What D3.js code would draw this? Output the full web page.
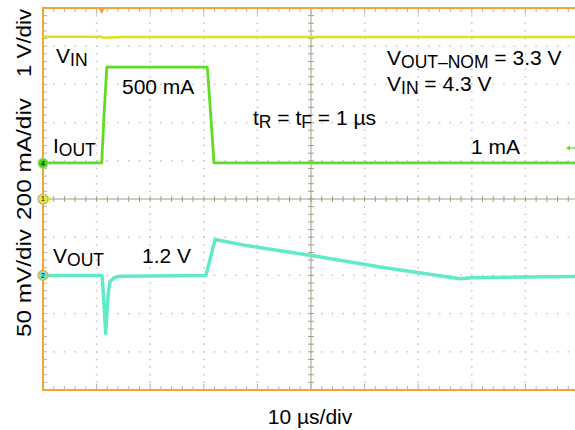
<!DOCTYPE html>
<html>
<head>
<meta charset="utf-8">
<script src="https://cdn.jsdelivr.net/npm/d3@7"></script>
<style>
  body { margin: 0; background: #fff; }
  text { font-family: "Liberation Sans", Arial, Helvetica, sans-serif; fill: #000; }
</style>
</head>
<body>
<script>
// time in µs from the left edge of the screen (10 µs/div)
const vinTime = [0, 10.9, 11.3, 12.5, 15, 100];
const vinVolts = [4.25, 4.25, 4.22, 4.23, 4.24, 4.24];

const ioutTime = [0, 10.95, 11.4, 11.9, 30.65, 31.3, 31.9, 100];
const ioutMilliamps = [2, 2, 260, 503, 503, 250, 2, 2];

// VOUT shown AC style: deviation from 3.3 V in mV
const voutTime = [0, 10.95, 11.06, 11.4, 11.7, 11.85, 12.13, 12.5, 13.25, 14.4,
    30.4, 30.7, 32.1, 38.0, 50.1, 62.9, 77.8, 80, 90, 100];
const voutMillivolts = [0, 0, -3, -40, -76, -59, -26, -8, -3, -1,
    0, 8, 47, 39, 26, 11, -4.5, -3, -2, -1.5];

const width = 575;
const height = 430;
const margin = { top: 8, left: 43 };
const divW = 53.6;
const divH = 38.2;

const svg = d3.select('body').append('svg')
    .attr('width', width)
    .attr('height', height);

const x = d3.scaleLinear().domain([0, 100]).range([margin.left, margin.left + 10 * divW]);
const yDiv = d3.scaleLinear().domain([-5, 5]).range([margin.top + 10 * divH, margin.top]);

// one scale per channel: units per division and marker offset in divisions
function chanScale(perDiv, offsetDiv) {
    return d3.scaleLinear()
        .domain([(-5 - offsetDiv) * perDiv, (5 - offsetDiv) * perDiv])
        .range(yDiv.range());
}
const yVin = chanScale(1, 0);
const yIout = chanScale(200, 0.935);
const yVout = chanScale(50, -2);

const pLeft = x(0), pRight = width, pTop = yDiv(5), pBottom = yDiv(-5);
const xMajor = x.ticks(10), xMinor = x.ticks(50);
const yMajor = yDiv.ticks(10), yMinor = yDiv.ticks(50);

const grid = svg.append('g');

// dotted graticule
const dots = [];
xMajor.filter((t) => t > 0 && t < 100 && t !== 50).forEach((t) => {
    yMinor.forEach((d) => dots.push([x(t), yDiv(d)]));
});
yMajor.filter((d) => d > -5 && d < 5 && d !== 0).forEach((d) => {
    xMinor.forEach((t) => dots.push([x(t), yDiv(d)]));
});
grid.selectAll('rect.dot').data(dots).join('rect')
    .attr('class', 'dot')
    .attr('x', (d) => d[0] - 0.75)
    .attr('y', (d) => d[1] - 0.75)
    .attr('width', 1.5)
    .attr('height', 1.5)
    .attr('fill', '#c4c4c4');

// center cross with ticks
const axisColor = '#a29e86';
grid.append('line')
    .attr('x1', x(50)).attr('x2', x(50)).attr('y1', pTop).attr('y2', pBottom)
    .attr('stroke', axisColor);
grid.append('line')
    .attr('x1', pLeft).attr('x2', pRight).attr('y1', yDiv(0)).attr('y2', yDiv(0))
    .attr('stroke', axisColor);
grid.selectAll('line.hc').data(xMinor).join('line')
    .attr('class', 'hc')
    .attr('x1', (t) => x(t)).attr('x2', (t) => x(t))
    .attr('y1', yDiv(0) - 3).attr('y2', yDiv(0) + 3)
    .attr('stroke', axisColor);
grid.selectAll('line.vc').data(yMinor).join('line')
    .attr('class', 'vc')
    .attr('x1', x(50) - 3).attr('x2', x(50) + 3)
    .attr('y1', (d) => yDiv(d)).attr('y2', (d) => yDiv(d))
    .attr('stroke', axisColor);

// border ticks
const tickColor = '#b9b29c';
grid.selectAll('line.bt').data(xMinor).join('line')
    .attr('class', 'bt')
    .attr('x1', (t) => x(t)).attr('x2', (t) => x(t))
    .attr('y1', pBottom).attr('y2', (t) => pBottom - (t % 10 === 0 ? 6 : 4))
    .attr('stroke', tickColor);
grid.selectAll('line.tt').data(xMinor).join('line')
    .attr('class', 'tt')
    .attr('x1', (t) => x(t)).attr('x2', (t) => x(t))
    .attr('y1', pTop).attr('y2', (t) => pTop + (t % 10 === 0 ? 6 : 4))
    .attr('stroke', tickColor);
grid.selectAll('line.lt').data(yMinor).join('line')
    .attr('class', 'lt')
    .attr('x1', pLeft).attr('x2', pLeft + 4)
    .attr('y1', (d) => yDiv(d)).attr('y2', (d) => yDiv(d))
    .attr('stroke', tickColor);

// orange frame
const frameColor = '#f2a43a';
svg.append('path')
    .attr('d', `M${pRight},${pTop}H${pLeft}V${pBottom}H${pRight}`)
    .attr('fill', 'none')
    .attr('stroke', frameColor)
    .attr('stroke-width', 2);

// traces
svg.append('defs').append('clipPath').attr('id', 'plot')
    .append('rect').attr('x', pLeft).attr('y', pTop).attr('width', pRight - pLeft).attr('height', pBottom - pTop);
const traces = svg.append('g').attr('clip-path', 'url(#plot)');

function trace(times, values, yscale, color, w) {
    const line = d3.line().x((i) => x(times[i])).y((i) => yscale(values[i]));
    traces.append('path')
        .attr('d', line(d3.range(times.length)))
        .attr('fill', 'none')
        .attr('stroke', color)
        .attr('stroke-width', w)
        .attr('stroke-linejoin', 'round');
}
trace(vinTime, vinVolts, yVin, '#dce31c', 2.5);
trace(voutTime, voutMillivolts, yVout, '#62eac8', 3.5);
trace(ioutTime, ioutMilliamps, yIout, '#62dc22', 2.8);

// channel markers on the left edge
const markers = [
    { n: '4', y: yIout(0), fill: '#4fd21f', stroke: '#8fe070' },
    { n: '1', y: yVin(0), fill: '#e8e838', stroke: '#b0ae98' },
    { n: '2', y: yVout(0), fill: '#72e8d0', stroke: '#f2a43a' }
];
const mk = svg.selectAll('g.mk').data(markers).join('g')
    .attr('class', 'mk')
    .attr('transform', (d) => `translate(${pLeft},${d.y})`);
mk.append('circle').attr('r', 5).attr('fill', (d) => d.fill).attr('stroke', (d) => d.stroke).attr('stroke-width', 1.2);
mk.append('text').attr('text-anchor', 'middle').attr('dy', 2.3).style('font-size', '7px').text((d) => d.n);

// trigger level arrow for ch1 and trigger position on top
svg.append('path').attr('d', `M${pLeft + 5},${yVin(0) - 2.5}L${pLeft + 9},${yVin(0)}L${pLeft + 5},${yVin(0) + 2.5}Z`)
    .attr('fill', '#e2e21a');
svg.append('path').attr('d', `M${x(10.95) - 3.5},${pTop}L${x(10.95) + 3.5},${pTop}L${x(10.95)},${pTop + 6}Z`)
    .attr('fill', frameColor);
// ch4 level arrow at the right edge
svg.append('path').attr('d', `M566,${yIout(80)}L570,${yIout(80) - 2.5}L570,${yIout(80) + 2.5}Z`)
    .attr('fill', '#62dc22');
svg.append('line').attr('x1', 569).attr('x2', 575).attr('y1', yIout(80)).attr('y2', yIout(80))
    .attr('stroke', '#62dc22').attr('stroke-width', 1.2);

// text labels: parts are [text, isSubscript]
function label(px, py, parts) {
    const t = svg.append('text').attr('x', px).attr('y', py).style('font-size', '21px');
    parts.forEach(([s, sub], i) => {
        t.append('tspan')
            .style('font-size', sub ? '17.5px' : '21px')
            .attr('dy', sub ? 3 : (i > 0 ? -3 : 0))
            .text(s);
    });
}
label(56, 63, [['V'], ['IN', true]]);
label(122, 94, [['500 mA']]);
label(387, 65, [['V'], ['OUT\u2013NOM', true], [' = 3.3 V']]);
label(387, 91, [['V'], ['IN', true], [' = 4.3 V']]);
label(253, 125, [['t'], ['R', true], [' = t'], ['F', true], [' = 1 \u00b5s']]);
label(53, 153, [['I'], ['OUT', true]]);
label(471, 154, [['1 mA']]);
label(53, 263, [['V'], ['OUT', true]]);
label(142, 263, [['1.2 V']]);

svg.append('text')
    .attr('x', 310).attr('y', 424)
    .attr('text-anchor', 'middle')
    .style('font-size', '21px')
    .text('10 \u00b5s/div');

const sideLabels = [
    { text: '1 V/div', y: 43, len: 68 },
    { text: '200 mA/div', y: 159, len: 122 },
    { text: '50 mV/div', y: 283, len: 108 }
];
svg.selectAll('text.side').data(sideLabels).join('text')
    .attr('class', 'side')
    .attr('transform', (d) => `translate(31,${d.y}) rotate(-90)`)
    .attr('text-anchor', 'middle')
    .attr('textLength', (d) => d.len)
    .attr('lengthAdjust', 'spacingAndGlyphs')
    .style('font-size', '21px')
    .text((d) => d.text);
</script>
</body>
</html>
